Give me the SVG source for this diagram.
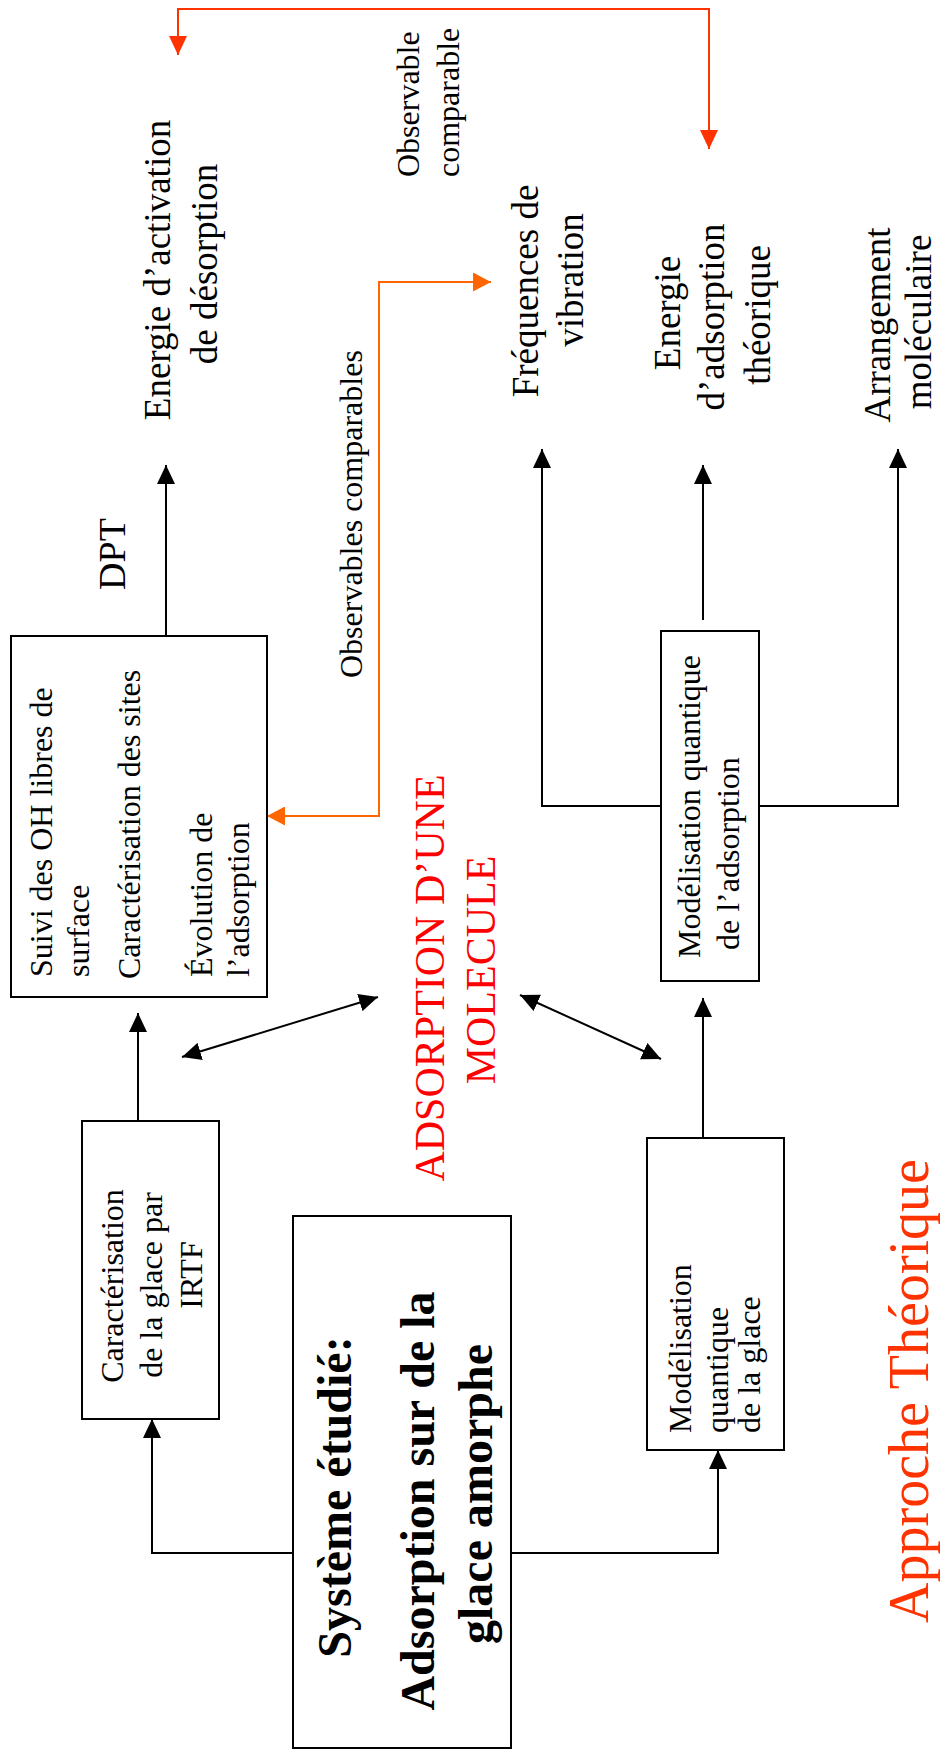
<svg xmlns="http://www.w3.org/2000/svg" width="941" height="1762" viewBox="0 0 941 1762">
<style>
  .box { fill: #fff; stroke: #000; stroke-width: 2; }
  .t { font-family: "Liberation Serif", "Times New Roman", serif; fill: #000; }
  .s32 { font-size: 32px; }
  .s37 { font-size: 37px; }
  .mid { text-anchor: middle; }
  .bold { font-weight: bold; font-size: 48px; }
  .red { fill: #FF0000; font-size: 42px; }
  .appr { fill: #FF3300; font-size: 56px; }
  .blk { fill: none; stroke: #000; stroke-width: 2; }
  .org { fill: none; stroke: #FF6600; stroke-width: 2; }
  .org2 { fill: none; stroke: #FF3300; stroke-width: 2; }
</style>
<defs>
  <marker id="ab" viewBox="0 0 10 10" refX="10" refY="5" markerWidth="19" markerHeight="18" markerUnits="userSpaceOnUse" orient="auto-start-reverse" preserveAspectRatio="none">
    <path d="M0,0 L10,5 L0,10 z" fill="#000"/>
  </marker>
  <marker id="ao" viewBox="0 0 10 10" refX="10" refY="5" markerWidth="18" markerHeight="19" markerUnits="userSpaceOnUse" orient="auto-start-reverse" preserveAspectRatio="none">
    <path d="M0,0 L10,5 L0,10 z" fill="#FF6600"/>
  </marker>
  <marker id="ar" viewBox="0 0 10 10" refX="10" refY="5" markerWidth="19" markerHeight="18" markerUnits="userSpaceOnUse" orient="auto-start-reverse" preserveAspectRatio="none">
    <path d="M0,0 L10,5 L0,10 z" fill="#FF3300"/>
  </marker>
</defs>

<g id="connectors">
  <path class="blk" d="M293,1553 H152 V1419" marker-end="url(#ab)"/>
  <path class="blk" d="M511,1553 H718 V1450" marker-end="url(#ab)"/>
  <path class="blk" d="M138,1121 V1013" marker-end="url(#ab)"/>
  <path class="blk" d="M166,636 V465" marker-end="url(#ab)"/>
  <path class="blk" d="M703,1138 V998" marker-end="url(#ab)"/>
  <path class="blk" d="M661,806 H542 V449" marker-end="url(#ab)"/>
  <path class="blk" d="M759,806 H898 V449" marker-end="url(#ab)"/>
  <path class="blk" d="M703,620 V465" marker-end="url(#ab)"/>
  <path class="blk" d="M182,1057 L378,997" marker-start="url(#ab)" marker-end="url(#ab)"/>
  <path class="blk" d="M520,995 L661,1059" marker-start="url(#ab)" marker-end="url(#ab)"/>
  <path class="org" d="M267,816 H379 V282 H491" marker-start="url(#ao)" marker-end="url(#ao)"/>
  <path class="org2" d="M178,55 V9 H709 V149" marker-start="url(#ar)" marker-end="url(#ar)"/>
</g>

<g id="systeme">
  <rect class="box" x="293" y="1216" width="218" height="532"/>
  <text class="t bold mid" transform="translate(351,1497) rotate(-90)">Système étudié:</text>
  <text class="t bold mid" transform="translate(434,1501) rotate(-90)">Adsorption sur de la</text>
  <text class="t bold mid" transform="translate(492,1494) rotate(-90)">glace amorphe</text>
</g>

<g id="irtf">
  <rect class="box" x="82" y="1121" width="137" height="298"/>
  <text class="t s32 mid" transform="translate(123,1286) rotate(-90)">Caractérisation</text>
  <text class="t s32 mid" transform="translate(162,1285) rotate(-90)">de la glace par</text>
  <text class="t s32 mid" transform="translate(202,1275) rotate(-90)">IRTF</text>
</g>

<g id="suivi">
  <rect class="box" x="11" y="636" width="256" height="361"/>
  <text class="t s32" transform="translate(52,977) rotate(-90)">Suivi des OH libres de</text>
  <text class="t s32" transform="translate(89,977) rotate(-90)">surface</text>
  <text class="t s32" transform="translate(140,979) rotate(-90)">Caractérisation des sites</text>
  <text class="t s32" transform="translate(212,977) rotate(-90)">Évolution de</text>
  <text class="t s32" transform="translate(249,977) rotate(-90)">l’adsorption</text>
</g>

<g id="dpt">
  <text class="t mid" font-size="38" transform="translate(125,554) rotate(-90)">DPT</text>
</g>

<g id="energie-activation">
  <text class="t s37 mid" transform="translate(170,270) rotate(-90)">Energie d’activation</text>
  <text class="t s37 mid" transform="translate(217,264) rotate(-90)">de désorption</text>
</g>

<g id="observable-comparable">
  <text class="t s32" transform="translate(419,177) rotate(-90)">Observable</text>
  <text class="t s32" transform="translate(459,177) rotate(-90)">comparable</text>
</g>

<g id="observables-comparables">
  <text class="t s32" transform="translate(362,678) rotate(-90)">Observables comparables</text>
</g>

<g id="adsorption-molecule">
  <text class="t red mid" transform="translate(444,978) rotate(-90)">ADSORPTION D’UNE</text>
  <text class="t red mid" transform="translate(495,970) rotate(-90)">MOLECULE</text>
</g>

<g id="frequences">
  <text class="t s37 mid" transform="translate(538,291) rotate(-90)">Fréquences de</text>
  <text class="t s37 mid" transform="translate(583,280) rotate(-90)">vibration</text>
</g>

<g id="energie-adsorption">
  <text class="t s37 mid" transform="translate(680,313) rotate(-90)">Energie</text>
  <text class="t s37 mid" transform="translate(724,317) rotate(-90)">d’adsorption</text>
  <text class="t s37 mid" transform="translate(770,315) rotate(-90)">théorique</text>
</g>

<g id="arrangement">
  <text class="t s37 mid" transform="translate(890,325) rotate(-90)">Arrangement</text>
  <text class="t s37 mid" transform="translate(931,322) rotate(-90)">moléculaire</text>
</g>

<g id="modelisation-adsorption">
  <rect class="box" x="661" y="631" width="98" height="350"/>
  <text class="t s32" transform="translate(700,958) rotate(-90)">Modélisation quantique</text>
  <text class="t s32" transform="translate(739,950) rotate(-90)">de l’adsorption</text>
</g>

<g id="modelisation-glace">
  <rect class="box" x="647" y="1138" width="137" height="312"/>
  <text class="t s32" transform="translate(691,1433) rotate(-90)">Modélisation</text>
  <text class="t s32" transform="translate(728,1433) rotate(-90)">quantique</text>
  <text class="t s32" transform="translate(760,1433) rotate(-90)">de la glace</text>
</g>

<g id="approche">
  <text class="t appr mid" transform="translate(928,1391) rotate(-90)">Approche Théorique</text>
</g>
</svg>
